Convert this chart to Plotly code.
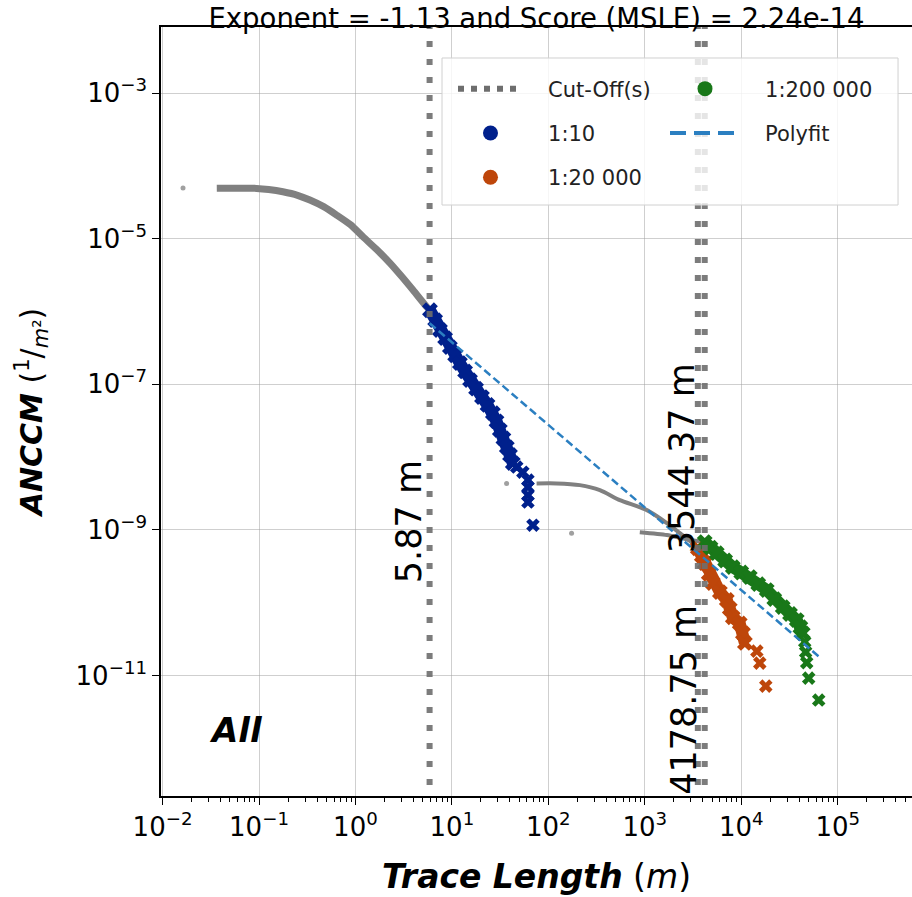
import plotly.graph_objects as go
import math

# ---------------- data ----------------
title_text = "Exponent = -1.13 and Score (MSLE) = 2.24e-14"
cutoffs = [5.87, 3544.37, 4178.75]
cutoff_labels = ["5.87 m", "3544.37 m", "4178.75 m"]
cutoff_label_y = [1.3e-9, 9.6e-9, 4.6e-12]
cutoff_label_shift = [-21, -15, -21]

# full (gray) distributions
gray10_x = [0.0365, 0.063, 0.0946, 0.126, 0.177, 0.251, 0.337, 0.468, 0.638, 0.891, 1.197, 1.66, 2.28, 3.02, 3.95, 5.47, 5.87]
gray10_y = [4.91e-5, 4.94e-5, 4.9e-5, 4.73e-5, 4.4e-5, 3.94e-5, 3.39e-5, 2.75e-5, 2.11e-5, 1.55e-5, 1.06e-5, 7.08e-6, 4.62e-6, 3.02e-6, 1.97e-6, 1.16e-6, 1.05e-6]
gray20k_x = [75.5, 121.7, 212, 342, 551, 1050, 1692, 2307, 3141, 3544]
gray20k_y = [4.35e-9, 4.35e-9, 4.12e-9, 3.52e-9, 2.56e-9, 1.87e-9, 1.24e-9, 9.04e-10, 6.59e-10, 5.9e-10]
gray200k_x = [887, 1692, 2931, 4178]
gray200k_y = [9.3e-10, 8.5e-10, 7.25e-10, 6.8e-10]
gray_single_x = [0.0163, 36.9, 174]
gray_single_y = [4.95e-5, 4.35e-9, 8.96e-10]

# fitted (above cut-off) values
s10_x = [5.92, 6.7, 7.52, 8.5, 9.53, 10.8, 12.1, 13.7, 15.4, 17.8, 20.5, 23.4, 26.6, 29.0, 31.4, 34.2, 37.1, 40.0, 42.8]
s10_y = [1.04e-6, 7.6e-7, 5.56e-7, 4.3e-7, 3.24e-7, 2.5e-7, 1.95e-7, 1.5e-7, 1.14e-7, 8.7e-8, 6.67e-8, 5.2e-8, 4.02e-8, 3.1e-8, 2.35e-8, 1.8e-8, 1.37e-8, 1.07e-8, 8.28e-9]
s10_tail_x = [47.0, 54.4, 61.4, 61.4, 61.4, 61.4, 69.2]
s10_tail_y = [7.3e-9, 6.2e-9, 4.83e-9, 3.87e-9, 3.0e-9, 2.41e-9, 1.16e-9]

s20k_x = [3544, 3900, 4180, 4600, 5070, 6000, 7080, 7600, 8170, 9640, 10400, 10900]
s20k_y = [5.6e-10, 4.4e-10, 3.5e-10, 2.5e-10, 1.86e-10, 1.4e-10, 1.09e-10, 8.3e-11, 6.3e-11, 5.2e-11, 3.8e-11, 2.8e-11]
s20k_tail_x = [14500, 15560, 17950]
s20k_tail_y = [2.16e-11, 1.48e-11, 7.15e-12]

s200k_x = [4178, 4800, 5570, 6800, 8170, 10000, 12250, 15000, 18370, 22000, 26900, 32000, 37600, 41000, 43400]
s200k_y = [6.8e-10, 5.7e-10, 4.8e-10, 3.8e-10, 3.08e-10, 2.6e-10, 2.25e-10, 1.8e-10, 1.49e-10, 1.12e-10, 8.7e-11, 7.0e-11, 5.77e-11, 4.6e-11, 3.82e-11]
s200k_tail_x = [45500, 46500, 47700, 50000, 63500]
s200k_tail_y = [2.9e-11, 2.1e-11, 1.5e-11, 9.2e-12, 4.6e-12]

polyfit_x = [5.87, 65000]
polyfit_y = [6.9e-7, 1.78e-11]

series_names = ["1:10", "1:20 000", "1:200 000"]
series_colors = ["#00208c", "#be460a", "#197819"]
gray = "#808080"
cut_color = "#6e6e6e"
poly_color = "#2b7fc1"

FONT = "DejaVu Sans"
PAD = "\u00a0\u00a0\u00a0"

fig = go.Figure()

# gray full distributions
for gx, gy, w in [(gray10_x, gray10_y, 7), (gray20k_x, gray20k_y, 4), (gray200k_x, gray200k_y, 4)]:
    fig.add_trace(go.Scatter(x=gx, y=gy, mode="lines", line=dict(color=gray, width=w, shape="spline", smoothing=0.6),
                             showlegend=False, hoverinfo="skip"))
fig.add_trace(go.Scatter(x=gray_single_x, y=gray_single_y, mode="markers",
                         marker=dict(color="#a0a0a0", size=5), showlegend=False))

# coloured series
dense = [(s10_x, s10_y), (s20k_x, s20k_y), (s200k_x, s200k_y)]
tails = [(s10_tail_x, s10_tail_y), (s20k_tail_x, s20k_tail_y), (s200k_tail_x, s200k_tail_y)]
for (dx, dy), (tx, ty), col in zip(dense, tails, series_colors):
    fig.add_trace(go.Scatter(x=dx, y=dy, mode="lines+markers",
                             line=dict(color=col, width=12),
                             marker=dict(symbol="x", size=14, color=col, line=dict(width=0)),
                             showlegend=False))
    fig.add_trace(go.Scatter(x=tx, y=ty, mode="markers",
                             marker=dict(symbol="x", size=12, color=col, line=dict(width=0)),
                             showlegend=False))

# polyfit
fig.add_trace(go.Scatter(x=polyfit_x, y=polyfit_y, mode="lines",
                         line=dict(color=poly_color, width=2.5, dash="8px,4px"),
                         showlegend=False))

# cut-off lines
for c in cutoffs:
    fig.add_trace(go.Scatter(x=[c, c], y=[1e-13, 1e-2], mode="lines",
                             line=dict(color=cut_color, width=6, dash="6px,12px"),
                             opacity=0.9, showlegend=False))

# legend entries
fig.add_trace(go.Scatter(x=[None], y=[None], mode="lines", name=PAD + "Cut-Off(s)",
                         line=dict(color=cut_color, width=6, dash="6px,7px"),
                         legend="legend", legendgroup="a", legendrank=1))
fig.add_trace(go.Scatter(x=[None], y=[None], mode="markers", name=PAD + series_names[0],
                         marker=dict(symbol="circle", size=15, color=series_colors[0]),
                         legend="legend", legendgroup="b", legendrank=2))
fig.add_trace(go.Scatter(x=[None], y=[None], mode="markers", name=PAD + series_names[1],
                         marker=dict(symbol="circle", size=15, color=series_colors[1]),
                         legend="legend", legendgroup="c", legendrank=3))
fig.add_trace(go.Scatter(x=[None], y=[None], mode="markers", name=PAD + series_names[2],
                         marker=dict(symbol="circle", size=15, color=series_colors[2]),
                         legend="legend2", legendgroup="d", legendrank=4))
fig.add_trace(go.Scatter(x=[None], y=[None], mode="lines", name=PAD + "Polyfit",
                         line=dict(color=poly_color, width=4, dash="16px,8px"),
                         legend="legend2", legendgroup="e", legendrank=5))

# annotations for cut-offs
annotations = []
for c, lab, ly, sh in zip(cutoffs, cutoff_labels, cutoff_label_y, cutoff_label_shift):
    annotations.append(dict(x=math.log10(c), y=math.log10(ly), xref="x", yref="y",
                            text=lab, showarrow=False, textangle=-90, xshift=sh,
                            font=dict(family=FONT, size=35, color="black")))
annotations.append(dict(x=0.0614, y=0.0566, xref="paper", yref="paper", text="<b><i>All</i></b>",
                        showarrow=False, font=dict(family=FONT, size=34, color="black")))

xt = [10.0 ** k for k in range(-2, 6)]
xt_text = ["10<sup>−2</sup>", "10<sup>−1</sup>", "10<sup>0</sup>", "10<sup>1</sup>",
           "10<sup>2</sup>", "10<sup>3</sup>", "10<sup>4</sup>", "10<sup>5</sup>"]
yt = [1e-3, 1e-5, 1e-7, 1e-9, 1e-11]
yt_text = ["10<sup>−3</sup>", "10<sup>−5</sup>", "10<sup>−7</sup>", "10<sup>−9</sup>", "10<sup>−11</sup>"]
minor_x = [m * 10.0 ** k for k in range(-3, 6) for m in range(2, 10)]

grid_col = "rgba(160,160,160,0.5)"

fig.update_layout(
    width=912, height=897,
    margin=dict(l=161, r=0, t=27, b=101, autoexpand=False),
    paper_bgcolor="white", plot_bgcolor="white",
    font=dict(family=FONT, color="black"),
    title=dict(text=title_text, x=0.5, xref="paper", y=0.98, yref="container", yanchor="middle",
               font=dict(family=FONT, size=27.5, color="black")),
    xaxis=dict(type="log", range=[-2.016, 5.77], tickvals=xt, ticktext=xt_text,
               ticks="outside", ticklen=7, tickwidth=1.2, tickcolor="black",
               showgrid=True, gridcolor=grid_col, gridwidth=1,
               showline=True, linecolor="black", linewidth=1.5, mirror=True,
               tickfont=dict(family=FONT, size=26, color="black"),
               minor=dict(tickvals=minor_x, ticks="outside", ticklen=4, tickcolor="black",
                          showgrid=False),
               title=dict(text="<b><i>Trace Length</i></b> (<i>m</i>)", standoff=24,
                          font=dict(family=FONT, size=33, color="black")),
               zeroline=False, automargin=False),
    yaxis=dict(type="log", range=[-12.655, -2.093], tickvals=yt, ticktext=yt_text,
               ticks="outside", ticklen=7, tickwidth=1.2, tickcolor="black",
               showgrid=True, gridcolor=grid_col, gridwidth=1,
               showline=True, linecolor="black", linewidth=1.5,
               tickfont=dict(family=FONT, size=26, color="black"),
               title=dict(text="<b><i>ANCCM</i></b> (<sup>1</sup>/<sub><i>m</i>²</sub>)", standoff=24,
                          font=dict(family=FONT, size=30, color="black")),
               zeroline=False, automargin=False),
    legend=dict(x=0.3888, y=0.946, xanchor="left", yanchor="top", bgcolor="rgba(0,0,0,0)",
                borderwidth=0, font=dict(family=FONT, size=21, color="#222222"),
                itemwidth=65, tracegroupgap=14, orientation="v"),
    legend2=dict(x=0.6711, y=0.946, xanchor="left", yanchor="top", bgcolor="rgba(0,0,0,0)",
                 borderwidth=0, font=dict(family=FONT, size=21, color="#222222"),
                 itemwidth=70, tracegroupgap=14, orientation="v"),
    shapes=[dict(type="rect", xref="paper", yref="paper", x0=0.3742, x1=0.9814,
                 y0=0.7685, y1=0.9597, line=dict(color="#d0d0d0", width=1),
                 fillcolor="rgba(255,255,255,0.8)", layer="above")],
    annotations=annotations,
)

fig.write_html("out.html", config={"displayModeBar": False},
               post_script="document.body.style.margin='0px';")
